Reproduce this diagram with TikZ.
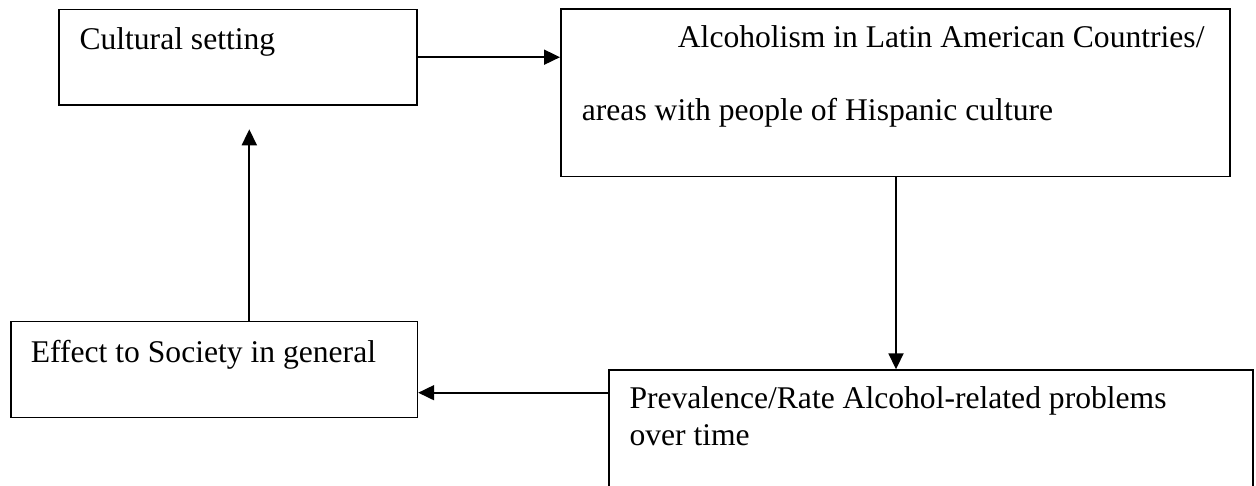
\documentclass[tikz,border=0pt]{standalone}
\usepackage{fontspec}
\setmainfont{Liberation Serif}
\usetikzlibrary{arrows.meta,calc}
\tikzset{
  boxshape/.style={draw=black, line width=1.7pt, rectangle, inner sep=0pt, anchor=north west},
  lbl/.style={anchor=base west, inner sep=0pt, font=\fontsize{31.6}{37}\selectfont},
  arr/.style={draw=black, line width=1.8pt, -{Triangle[length=16pt,width=15pt]}}
}
\begin{document}
\begin{tikzpicture}[x=1pt,y=-1pt]
\clip (0,0) rectangle (1256,485);
\fill[white] (0,0) rectangle (1256,485);
% boxes
\node[boxshape, minimum width=357.7pt, minimum height=95.3pt] (b1) at (58.3,8.7) {};
\node[boxshape, minimum width=669.3pt, minimum height=167.4pt] (b2) at (560,8.3) {};
\node[boxshape, minimum width=406.5pt, minimum height=96.2pt] (b3) at (10,320.5) {};
\node[boxshape, minimum width=643.7pt, minimum height=140pt] (b4) at (608.3,369.3) {};
% texts
\node[lbl] (t1) at (79.3,49) {Cultural setting};
\node[lbl] (t2a) at (677.7,47.7) {Alcoholism in Latin American Countries/};
\node[lbl] (t2b) at (581.7,120) {areas with people of Hispanic culture};
\node[lbl] (t3) at (30.7,362.3) {Effect to Society in general};
\node[lbl] (t4a) at (629.3,408.3) {Prevalence/Rate Alcohol-related problems};
\node[lbl] (t4b) at (629.3,445.7) {over time};
% connectors
\coordinate (m3) at (0,392.7);
\coordinate (up) at (249.3,129.3);
\coordinate (dn) at (896,0);
\draw[arr] (b1.east) -- (b1.east -| b2.west);
\draw[arr] (dn |- b2.south) -- (dn |- b4.north);
\draw[arr] (m3 -| b4.west) -- (m3 -| b3.east);
\draw[arr] (up |- b3.north) -- (up);
\end{tikzpicture}
\end{document}
